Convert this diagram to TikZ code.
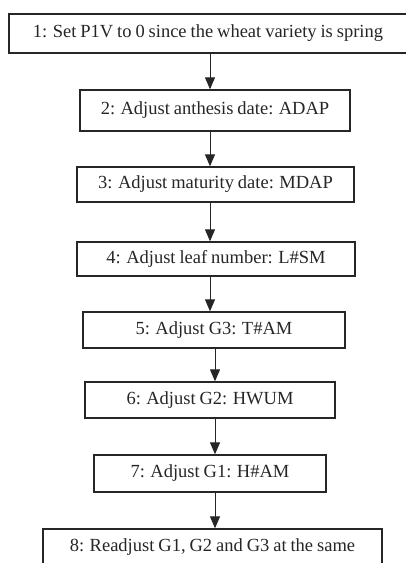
\documentclass[tikz,border=0pt]{standalone}
\usepackage{fontspec}
\setmainfont{Liberation Serif}[WordSpace=0.85]
\usetikzlibrary{arrows.meta}
\begin{document}
\begin{tikzpicture}[x=1pt,y=-1pt,
  stepbox/.style={draw=black!85, line width=1.3pt, inner sep=0pt,
    font=\fontsize{18.5}{22}\selectfont, text=black!85},
  flow/.style={draw=black!85, line width=1pt,
    -{Triangle[length=12pt,width=10pt]}}]
\useasboundingbox (0,0) rectangle (406,563);
\node[stepbox, minimum width=398pt, minimum height=39pt] (s1) at (208,33.5) {1: Set P1V to 0 since the wheat variety is spring};
\node[stepbox, minimum width=270pt, minimum height=41pt] (s2) at (215,110.5) {2: Adjust anthesis date: ADAP};
\node[stepbox, minimum width=277pt, minimum height=35pt] (s3) at (215.5,184.5) {3: Adjust maturity date: MDAP};
\node[stepbox, minimum width=278pt, minimum height=34pt] (s4) at (216,259) {4: Adjust leaf number: L\#SM};
\node[stepbox, minimum width=262pt, minimum height=36pt] (s5) at (214,330) {5: Adjust G3: T\#AM};
\node[stepbox, minimum width=250pt, minimum height=36pt] (s6) at (210,400) {6: Adjust G2: HWUM};
\node[stepbox, minimum width=232pt, minimum height=37pt] (s7) at (210,473.5) {7: Adjust G1: H\#AM};
\node[stepbox, minimum width=339pt, minimum height=37pt] (s8) at (212.5,547.5) {8: Readjust G1, G2 and G3 at the same};
% vertical flow arrows between consecutive steps
\draw[flow] (s1.south -| 210,0) -- (s2.north -| 210,0);
\draw[flow] (s2.south -| 210,0) -- (s3.north -| 210,0);
\draw[flow] (s3.south -| 210,0) -- (s4.north -| 210,0);
\draw[flow] (s4.south -| 210,0) -- (s5.north -| 210,0);
\draw[flow] (s5.south -| 215,0) -- (s6.north -| 215,0);
\draw[flow] (s6.south -| 215,0) -- (s7.north -| 215,0);
\draw[flow] (s7.south -| 215,0) -- (s8.north -| 215,0);
\end{tikzpicture}
\end{document}
